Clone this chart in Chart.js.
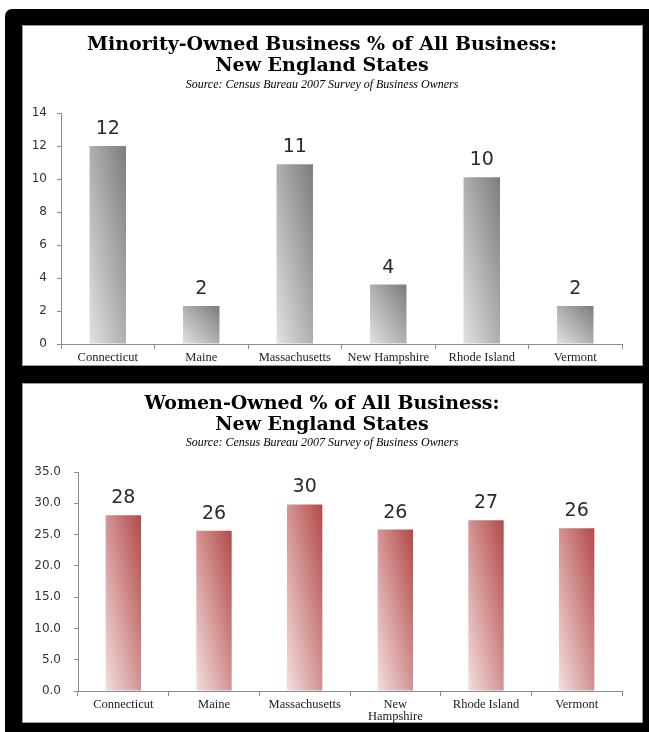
<!DOCTYPE html>
<html>
<head>
<meta charset="utf-8">
<script src="https://cdn.jsdelivr.net/npm/chart.js@4.4.1/dist/chart.umd.min.js"></script>
<style>
    html, body { margin: 0; padding: 0; background: #fff; }
    #frame {
        position: absolute; left: 5px; top: 9px; width: 644px; height: 723px;
        background: #000; border-top-left-radius: 7px;
    }
    .panel {
        position: absolute; left: 22px; width: 621px; background: #fff;
        box-sizing: border-box; border: 1px solid #9a9a9a;
    }
    .panel canvas { position: absolute; left: -1px; top: -1px; }
</style>
</head>
<body>
<div id="frame"></div>
<div class="panel" style="top:25px;height:341px"><canvas id="chartMinority" width="621" height="341"></canvas></div>
<div class="panel" style="top:383px;height:340px"><canvas id="chartWomen" width="621" height="340"></canvas></div>

<script>
var states = ["Connecticut", "Maine", "Massachusetts", "New Hampshire", "Rhode Island", "Vermont"];
var minorityShare = [12.0, 2.3, 10.9, 3.6, 10.1, 2.3];
var womenShare = [28.1, 25.6, 29.8, 25.8, 27.3, 26.0];
var minorityTicks = [0, 2, 4, 6, 8, 10, 12, 14];
var womenTicks = [0, 5, 10, 15, 20, 25, 30, 35];

var BAR_PCT = 0.39;
var sourceLine = "Source: Census Bureau 2007 Survey of Business Owners";

document.addEventListener("DOMContentLoaded", function () {

    // diagonal fill, light at the bottom-left corner of each bar, dark at the top-right
    function diagonalFill(light, dark) {
        return function (c) {
            var chart = c.chart;
            var xs = chart.scales.x, ys = chart.scales.y;
            if (!xs || !ys || !chart.chartArea) return dark;
            var cx = xs.getPixelForValue(c.dataIndex);
            var w = (xs.width / chart.data.labels.length) * BAR_PCT;
            var left = cx - w / 2;
            var top = ys.getPixelForValue(c.raw);
            var bottom = ys.getPixelForValue(0);
            var h = bottom - top;
            if (h <= 0) return dark;
            var s = 2 * w * h / (w * w + h * h);
            var g = chart.ctx.createLinearGradient(left, bottom, left + s * h, bottom - s * w);
            g.addColorStop(0, light);
            g.addColorStop(1, dark);
            return g;
        };
    }

    var valueLabels = {
        id: "valueLabels",
        afterDatasetsDraw: function (chart) {
            var ctx = chart.ctx;
            var meta = chart.getDatasetMeta(0);
            var data = chart.data.datasets[0].data;
            ctx.save();
            ctx.font = "19px 'DejaVu Sans'";
            ctx.fillStyle = "#2a2a2a";
            ctx.textAlign = "center";
            ctx.textBaseline = "middle";
            meta.data.forEach(function (bar, i) {
                ctx.fillText(String(Math.round(data[i])), bar.x, bar.y - 17);
            });
            ctx.restore();
        }
    };

    function buildChart(id, labels, values, ticks, opts) {
        return new Chart(document.getElementById(id), {
            type: "bar",
            data: {
                labels: labels,
                datasets: [{
                    data: values,
                    backgroundColor: diagonalFill(opts.light, opts.dark),
                    borderWidth: 0,
                    categoryPercentage: 1,
                    barPercentage: BAR_PCT
                }]
            },
            options: {
                responsive: false,
                animation: false,
                events: [],
                layout: { padding: { top: opts.top, right: 21, left: 0, bottom: 0 } },
                plugins: {
                    legend: { display: false },
                    tooltip: { enabled: false },
                    title: {
                        display: true,
                        text: opts.title,
                        color: "#000",
                        font: { family: "'DejaVu Serif'", size: 19, weight: "bold", lineHeight: 21 / 19 },
                        padding: { top: 0, bottom: 0 }
                    },
                    subtitle: {
                        display: true,
                        text: sourceLine,
                        color: "#000",
                        font: { family: "'Liberation Serif'", size: 12, style: "italic", lineHeight: 1.2 },
                        padding: { top: opts.subTop, bottom: opts.gap }
                    }
                },
                scales: {
                    x: {
                        afterFit: function (scale) { scale.height = opts.xHeight; },
                        border: { display: true, color: "#8c8c8c" },
                        grid: { display: true, drawOnChartArea: false, tickLength: 5, color: "#8c8c8c" },
                        ticks: {
                            autoSkip: false, maxRotation: 0, padding: 2, color: "#222",
                            font: { family: "'Liberation Serif'", size: 12.5, lineHeight: 1.0 }
                        }
                    },
                    y: {
                        min: ticks[0],
                        max: ticks[ticks.length - 1],
                        afterFit: function (scale) { scale.width = opts.yWidth; },
                        afterBuildTicks: function (scale) {
                            scale.ticks = ticks.map(function (v) { return { value: v }; });
                        },
                        border: { display: true, color: "#8c8c8c" },
                        grid: { display: true, drawOnChartArea: false, tickLength: 4, color: "#8c8c8c" },
                        ticks: {
                            padding: opts.yPad, color: "#333",
                            font: { family: "'DejaVu Sans'", size: 12 },
                            callback: opts.fmt
                        }
                    }
                }
            },
            plugins: [valueLabels]
        });
    }

    buildChart("chartMinority", states, minorityShare, minorityTicks, {
        title: ["Minority-Owned Business % of All Business:", "New England States"],
        light: "#e2e2e2", dark: "#7c7c7c",
        top: 10, subTop: 1, gap: 20.6, xHeight: 22, yWidth: 39, yPad: 10,
        fmt: function (v) { return String(v); }
    });

    var womenLabels = states.map(function (s) {
        return s === "New Hampshire" ? ["New", "Hampshire"] : s;
    });

    buildChart("chartWomen", womenLabels, womenShare, womenTicks, {
        title: ["Women-Owned % of All Business:", "New England States"],
        light: "#f3dede", dark: "#b34a48",
        top: 11, subTop: 0, gap: 21.6, xHeight: 32, yWidth: 56, yPad: 13,
        fmt: function (v) { return Number(v).toFixed(1); }
    });
});
</script>
</body>
</html>
